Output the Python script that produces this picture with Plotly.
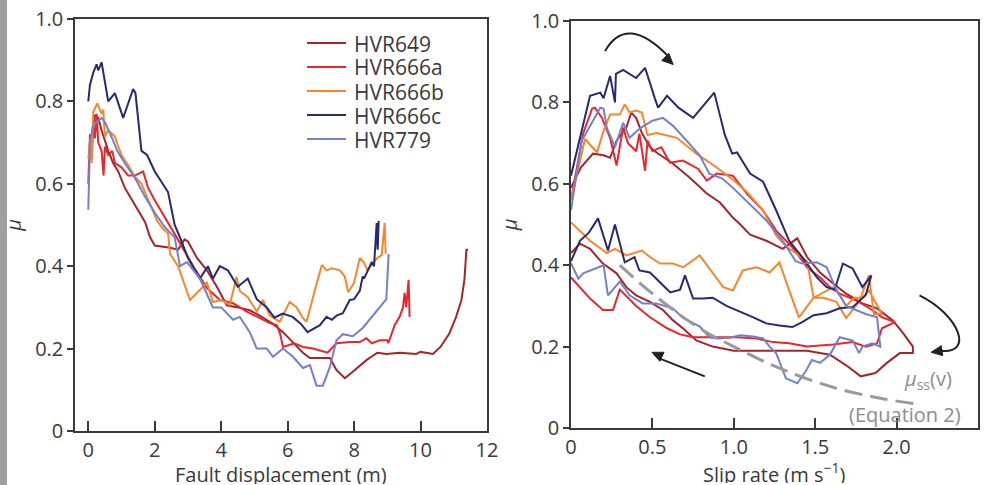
import math
import plotly.graph_objects as go

# ---------------- data: left panel (mu vs fault displacement) ----------------
disp_HVR649 = [0.1, 0.2, 0.3, 0.4, 0.6, 0.75, 0.9, 1.1, 1.32, 1.5, 1.71, 1.86, 2.0, 2.46, 2.7, 2.9, 3.0, 3.27, 3.57, 3.87,
               4.17, 4.5, 4.86, 5.16, 5.56, 5.86, 6.16, 6.46, 6.67, 7.27, 7.47, 7.72, 7.96, 8.37, 8.7, 8.97, 9.37, 9.87,
               10.0, 10.2, 10.37, 10.6, 10.87, 11.07, 11.23, 11.32, 11.38, 11.43]
mu_HVR649 = [0.72, 0.767, 0.76, 0.73, 0.68, 0.65, 0.63, 0.59, 0.56, 0.536, 0.507, 0.47, 0.45, 0.445, 0.44, 0.465, 0.46,
             0.42, 0.39, 0.35, 0.305, 0.30, 0.293, 0.28, 0.26, 0.24, 0.216, 0.19, 0.177, 0.177, 0.148, 0.128, 0.144,
             0.172, 0.19, 0.187, 0.19, 0.187, 0.192, 0.19, 0.187, 0.204, 0.237, 0.277, 0.318, 0.367, 0.44, 0.44]

disp_HVR666a = [0.0, 0.05, 0.1, 0.15, 0.2, 0.25, 0.3, 0.4, 0.46, 0.5, 0.6, 0.72, 0.8, 1.0, 1.2, 1.4, 1.65, 1.8, 2.0, 2.3,
                2.5, 2.76, 3.16, 3.57, 3.96, 4.36, 4.77, 5.16, 5.46, 5.67, 5.77, 5.86, 6.2, 6.46, 6.76, 7.2, 7.47, 7.87,
                8.17, 8.37, 8.53, 8.77, 9.0, 9.03, 9.22, 9.37, 9.47, 9.52, 9.57, 9.64, 9.67]
mu_HVR666a = [0.60, 0.72, 0.66, 0.74, 0.71, 0.77, 0.70, 0.68, 0.62, 0.69, 0.67, 0.68, 0.65, 0.64, 0.62, 0.62, 0.63, 0.59,
              0.56, 0.52, 0.49, 0.456, 0.40, 0.347, 0.318, 0.31, 0.29, 0.274, 0.262, 0.257, 0.237, 0.204, 0.213, 0.204,
              0.20, 0.19, 0.213, 0.216, 0.216, 0.225, 0.213, 0.22, 0.22, 0.213, 0.257, 0.277, 0.30, 0.335, 0.30, 0.367,
              0.277]

disp_HVR666b = [0.0, 0.06, 0.1, 0.15, 0.27, 0.4, 0.45, 0.5, 0.6, 0.8, 0.9, 1.0, 1.2, 1.4, 1.6, 1.8, 2.07, 2.25, 2.4, 2.46,
                2.7, 3.06, 3.36, 3.57, 3.75, 4.0, 4.26, 4.46, 4.56, 4.8, 5.07, 5.26, 5.46, 5.76, 6.06, 6.27, 6.46, 6.57,
                6.82, 7.03, 7.17, 7.33, 7.57, 7.72, 7.82, 8.0, 8.17, 8.3, 8.4, 8.53, 8.7, 8.83, 8.92, 8.95]
mu_HVR666b = [0.66, 0.71, 0.65, 0.775, 0.795, 0.77, 0.78, 0.715, 0.73, 0.715, 0.69, 0.67, 0.645, 0.617, 0.60, 0.56, 0.51,
              0.49, 0.48, 0.43, 0.40, 0.318, 0.342, 0.36, 0.313, 0.318, 0.306, 0.374, 0.34, 0.325, 0.29, 0.318, 0.28,
              0.265, 0.313, 0.30, 0.274, 0.265, 0.342, 0.403, 0.39, 0.395, 0.39, 0.375, 0.337, 0.36, 0.42, 0.408, 0.39,
              0.403, 0.42, 0.427, 0.505, 0.43]

disp_HVR666c = [0.0, 0.05, 0.15, 0.25, 0.3, 0.4, 0.6, 0.8, 1.05, 1.35, 1.42, 1.6, 1.77, 2.0, 2.4, 2.6, 2.76, 3.0, 3.36,
                3.6, 3.75, 3.96, 4.2, 4.5, 4.8, 5.07, 5.37, 5.6, 5.85, 6.15, 6.4, 6.6, 6.97, 7.17, 7.33, 7.47, 7.66, 7.87,
                8.0, 8.17, 8.26, 8.3, 8.53, 8.6, 8.68, 8.71, 8.74]
mu_HVR666c = [0.80, 0.84, 0.87, 0.89, 0.875, 0.895, 0.80, 0.82, 0.76, 0.83, 0.82, 0.68, 0.67, 0.63, 0.58, 0.50, 0.47,
              0.42, 0.37, 0.40, 0.37, 0.40, 0.39, 0.35, 0.37, 0.32, 0.30, 0.275, 0.285, 0.277, 0.26, 0.24, 0.257, 0.277,
              0.27, 0.28, 0.286, 0.318, 0.32, 0.34, 0.375, 0.37, 0.41, 0.40, 0.505, 0.44, 0.51]

disp_HVR779 = [0.0, 0.05, 0.15, 0.25, 0.4, 0.5, 0.72, 0.87, 1.1, 1.36, 1.5, 1.7, 2.0, 2.3, 2.6, 2.76, 2.97, 3.36, 3.75,
               4.0, 4.36, 4.56, 4.86, 5.07, 5.37, 5.56, 5.86, 6.16, 6.46, 6.67, 6.87, 7.06, 7.27, 7.47, 7.66, 7.96, 8.26,
               8.56, 8.83, 8.97, 9.04]
mu_HVR779 = [0.537, 0.70, 0.74, 0.75, 0.76, 0.75, 0.71, 0.68, 0.65, 0.62, 0.60, 0.57, 0.53, 0.495, 0.47, 0.40, 0.41,
             0.37, 0.30, 0.30, 0.27, 0.277, 0.24, 0.20, 0.20, 0.18, 0.20, 0.18, 0.153, 0.16, 0.11, 0.11, 0.155, 0.22,
             0.235, 0.23, 0.25, 0.28, 0.305, 0.32, 0.43]

# ---------------- data: right panel (mu vs slip rate) ----------------
v_HVR649 = [0.0, 0.06, 0.135, 0.2, 0.24, 0.28, 0.34, 0.37, 0.4, 0.435, 0.485, 0.525, 0.625, 0.73, 0.834, 0.915, 0.994,
            1.04, 1.1, 1.2, 1.3, 1.39, 1.45, 1.53, 1.61, 1.69, 1.79, 1.88, 1.975, 2.04, 2.1, 2.1,
            2.02, 1.94, 1.87, 1.78, 1.69, 1.59, 1.45, 1.3, 1.2, 1.0, 0.87, 0.77, 0.687, 0.625, 0.565, 0.485, 0.4,
            0.34, 0.28, 0.196, 0.117, 0.055, 0.0]
muv_HVR649 = [0.59, 0.64, 0.674, 0.67, 0.664, 0.706, 0.738, 0.775, 0.762, 0.725, 0.69, 0.677, 0.65, 0.615, 0.576, 0.554,
              0.517, 0.50, 0.475, 0.46, 0.44, 0.466, 0.42, 0.382, 0.355, 0.33, 0.306, 0.294, 0.265, 0.233, 0.2, 0.184,
              0.184, 0.16, 0.135, 0.127, 0.154, 0.18, 0.19, 0.19, 0.19, 0.19, 0.2, 0.215, 0.245, 0.265, 0.29, 0.31,
              0.326, 0.346, 0.38, 0.404, 0.44, 0.453, 0.43]

v_HVR666a = [0.0, 0.074, 0.13, 0.147, 0.19, 0.24, 0.28, 0.32, 0.35, 0.4, 0.42, 0.455, 0.47, 0.5, 0.555, 0.607, 0.687,
             0.78, 0.834, 0.895, 0.994, 1.08, 1.18, 1.26, 1.36, 1.45, 1.53, 1.59, 1.65, 1.75, 1.85, 1.91, 1.99,
             1.91, 1.88, 1.81, 1.73, 1.61, 1.45, 1.34, 1.24, 1.14, 1.02, 0.85, 0.75, 0.67, 0.59, 0.485, 0.4, 0.3,
             0.258, 0.196, 0.117, 0.0]
muv_HVR666a = [0.56, 0.723, 0.785, 0.787, 0.762, 0.713, 0.645, 0.738, 0.70, 0.68, 0.723, 0.632, 0.706, 0.68, 0.69,
               0.652, 0.657, 0.637, 0.608, 0.625, 0.62, 0.576, 0.534, 0.485, 0.444, 0.395, 0.37, 0.346, 0.33, 0.314,
               0.29, 0.272, 0.26, 0.245, 0.208, 0.2, 0.211, 0.205, 0.2, 0.208, 0.211, 0.22, 0.223, 0.223, 0.223, 0.23,
               0.245, 0.272, 0.30, 0.34, 0.29, 0.29, 0.318, 0.37]

v_HVR666b = [0.0, 0.086, 0.16, 0.2, 0.24, 0.3, 0.33, 0.36, 0.4, 0.435, 0.47, 0.525, 0.65, 0.77, 0.895, 0.995, 1.08,
             1.18, 1.26, 1.3, 1.34, 1.45, 1.49, 1.55, 1.61, 1.65, 1.69, 1.74, 1.79, 1.83, 1.88, 1.91,
             1.86, 1.83, 1.77, 1.69, 1.63, 1.55, 1.49, 1.4, 1.34, 1.28, 1.22, 1.14, 1.055, 0.995, 0.935, 0.87, 0.79,
             0.69, 0.625, 0.546, 0.485, 0.435, 0.34, 0.27, 0.22, 0.117, 0.0]
muv_HVR666b = [0.56, 0.71, 0.677, 0.73, 0.77, 0.77, 0.795, 0.775, 0.78, 0.775, 0.72, 0.725, 0.713, 0.674, 0.64, 0.61,
               0.58, 0.535, 0.473, 0.455, 0.441, 0.41, 0.32, 0.333, 0.346, 0.326, 0.30, 0.32, 0.32, 0.338, 0.30, 0.28,
               0.28, 0.375, 0.31, 0.27, 0.31, 0.32, 0.32, 0.272, 0.338, 0.407, 0.382, 0.395, 0.387, 0.338, 0.346,
               0.38, 0.424, 0.395, 0.404, 0.404, 0.42, 0.436, 0.424, 0.44, 0.43, 0.46, 0.505]

v_HVR666c = [0.0, 0.117, 0.18, 0.2, 0.24, 0.27, 0.276, 0.32, 0.40, 0.455, 0.515, 0.535, 0.59, 0.66, 0.75, 0.88, 0.945,
             0.99, 1.02, 1.1, 1.18, 1.26, 1.34, 1.42, 1.51, 1.57, 1.62, 1.67, 1.73, 1.79, 1.845,
             1.81, 1.73, 1.65, 1.57, 1.49, 1.42, 1.36, 1.28, 1.2, 1.12, 1.04, 0.955, 0.87, 0.81, 0.75, 0.70, 0.67,
             0.61, 0.577, 0.485, 0.42, 0.39, 0.33, 0.27, 0.227, 0.166, 0.11, 0.055, 0.0]
muv_HVR666c = [0.62, 0.816, 0.824, 0.81, 0.865, 0.80, 0.87, 0.88, 0.86, 0.885, 0.81, 0.787, 0.816, 0.787, 0.762, 0.824,
               0.72, 0.674, 0.677, 0.625, 0.605, 0.535, 0.46, 0.42, 0.37, 0.346, 0.34, 0.404, 0.392, 0.346, 0.375,
               0.326, 0.297, 0.294, 0.282, 0.277, 0.26, 0.248, 0.252, 0.257, 0.272, 0.285, 0.30, 0.32, 0.318, 0.318,
               0.375, 0.34, 0.333, 0.346, 0.382, 0.387, 0.42, 0.407, 0.50, 0.436, 0.515, 0.48, 0.46, 0.41]

v_HVR779 = [0.0, 0.065, 0.18, 0.2, 0.22, 0.27, 0.32, 0.36, 0.42, 0.5, 0.565, 0.625, 0.71, 0.79, 0.85, 0.93, 0.995, 1.1,
            1.2, 1.3, 1.38, 1.42, 1.51, 1.57, 1.63, 1.69, 1.75, 1.81, 1.88, 1.9,
            1.85, 1.79, 1.77, 1.73, 1.65, 1.59, 1.53, 1.48, 1.44, 1.39, 1.32, 1.26, 1.22, 1.18, 1.12, 1.04, 0.975,
            0.9, 0.85, 0.79, 0.69, 0.625, 0.525, 0.44, 0.36, 0.3, 0.227, 0.2, 0.075, 0.045, 0.0]
muv_HVR779 = [0.535, 0.705, 0.787, 0.785, 0.738, 0.69, 0.75, 0.713, 0.735, 0.755, 0.762, 0.743, 0.706, 0.67, 0.625,
              0.613, 0.59, 0.55, 0.51, 0.46, 0.41, 0.404, 0.407, 0.395, 0.34, 0.30, 0.29, 0.28, 0.272, 0.2,
              0.208, 0.2, 0.184, 0.215, 0.223, 0.18, 0.16, 0.167, 0.138, 0.11, 0.122, 0.184, 0.2, 0.22, 0.225, 0.228,
              0.222, 0.22, 0.223, 0.25, 0.27, 0.294, 0.306, 0.306, 0.326, 0.36, 0.326, 0.40, 0.38, 0.367, 0.405]

# steady-state friction curve mu_ss(v) (Equation 2)
v_ss = [0.3, 0.5, 0.79, 1.0, 1.28, 1.61, 1.9, 2.11]
mu_ss = [0.40, 0.33, 0.245, 0.20, 0.147, 0.10, 0.073, 0.06]

samples = ["HVR649", "HVR666a", "HVR666b", "HVR666c", "HVR779"]
colors = ["#a3262e", "#e8262d", "#f7862f", "#262a6e", "#7480c8"]

left_x = [disp_HVR649, disp_HVR666a, disp_HVR666b, disp_HVR666c, disp_HVR779]
left_y = [mu_HVR649, mu_HVR666a, mu_HVR666b, mu_HVR666c, mu_HVR779]
right_x = [v_HVR649, v_HVR666a, v_HVR666b, v_HVR666c, v_HVR779]
right_y = [muv_HVR649, muv_HVR666a, muv_HVR666b, muv_HVR666c, muv_HVR779]

y_ticks = [0, 0.2, 0.4, 0.6, 0.8, 1.0]
y_ticktext = ["0", "0.2", "0.4", "0.6", "0.8", "1.0"]
disp_ticks = [0, 2, 4, 6, 8, 10, 12]
v_ticks = [0, 0.5, 1.0, 1.5, 2.0, 2.5]
v_ticktext = ["0", "0.5", "1.0", "1.5", "2.0", "2.5"]

FONT = "Open Sans"
TXT = "#3a3a3a"
W, H = 989, 485

# subplot frames in pixels (left, top, right, bottom)
L_BOX = (75, 19, 487, 431)
R_BOX = (571, 21, 978, 428)
R_XRANGE = (0.0, 2.5)
R_YRANGE = (0.0, 1.0)

fig = go.Figure()
for name, c, xs, ys in zip(samples, colors, left_x, left_y):
    fig.add_trace(go.Scatter(x=xs, y=ys, mode="lines", name=name, showlegend=False,
                             line=dict(color=c, width=2), xaxis="x", yaxis="y"))
for name, c, xs, ys in zip(samples, colors, right_x, right_y):
    fig.add_trace(go.Scatter(x=xs, y=ys, mode="lines", name=name, showlegend=False,
                             line=dict(color=c, width=2), xaxis="x2", yaxis="y2"))
fig.add_trace(go.Scatter(x=v_ss, y=mu_ss, mode="lines", showlegend=False, line_shape="spline",
                         line=dict(color="#9a9a9a", width=3, dash="18px,8px"), xaxis="x2", yaxis="y2"))

axis_common = dict(showgrid=False, zeroline=False, showline=True, mirror=True, linecolor="#3a3a3a",
                   linewidth=1.5, tickcolor="#3a3a3a", tickwidth=1.5, automargin=False,
                   tickfont=dict(family=FONT, size=20, color=TXT))


def title(text, standoff):
    return dict(text=text, font=dict(family=FONT, size=20, color=TXT), standoff=standoff)


fig.update_layout(
    width=W, height=H,
    margin=dict(l=0, r=0, t=0, b=0, autoexpand=False),
    paper_bgcolor="white", plot_bgcolor="white",
    font=dict(family=FONT, size=20, color=TXT),
    showlegend=False,
    xaxis=dict(domain=[L_BOX[0] / W, L_BOX[2] / W], range=[-0.4, 12], tickvals=disp_ticks, ticks="inside",
               ticklen=10, anchor="y", **axis_common),
    yaxis=dict(domain=[(H - L_BOX[3]) / H, (H - L_BOX[1]) / H], range=[0, 1.0], tickvals=y_ticks,
               ticktext=y_ticktext, ticks="outside", ticklen=6, title=title("<i>μ</i>", 14), anchor="x",
               **axis_common),
    xaxis2=dict(domain=[R_BOX[0] / W, R_BOX[2] / W], range=list(R_XRANGE), tickvals=v_ticks, ticktext=v_ticktext,
                ticks="inside", ticklen=10, anchor="y2", **axis_common),
    yaxis2=dict(domain=[(H - R_BOX[3]) / H, (H - R_BOX[1]) / H], range=list(R_YRANGE), tickvals=y_ticks,
                ticktext=y_ticktext, ticks="outside", ticklen=6, title=title("<i>μ</i>", 8), anchor="x2",
                **axis_common),
)

# x-axis titles, placed below the tick labels as in the original
fig.add_annotation(xref="paper", yref="paper", x=(L_BOX[0] + L_BOX[2]) / 2 / W, y=1 - 474 / H,
                   text="Fault displacement (m)", showarrow=False, xanchor="center", yanchor="middle",
                   height=20, font=dict(family=FONT, size=20, color=TXT))
fig.add_annotation(xref="paper", yref="paper", x=(R_BOX[0] + R_BOX[2]) / 2 / W, y=1 - 473 / H,
                   text="Slip rate (m s<sup>−1</sup>)", showarrow=False, xanchor="center", yanchor="middle",
                   height=20, font=dict(family=FONT, size=20, color=TXT))

# grey strip at the left edge of the picture
fig.add_shape(type="rect", xref="paper", yref="paper", x0=0, x1=7 / W, y0=0, y1=1,
              fillcolor="#9f9f9f", line=dict(width=0), layer="below")

# hand-drawn legend in the left panel (line samples + labels)
leg_rows_px = [43, 67, 91, 115, 139]
for name, c, ypx in zip(samples, colors, leg_rows_px):
    fig.add_shape(type="line", xref="paper", yref="paper", x0=307 / W, x1=346 / W,
                  y0=1 - ypx / H, y1=1 - ypx / H, line=dict(color=c, width=2))
    fig.add_annotation(xref="paper", yref="paper", x=352 / W, y=1 - ypx / H, text=name, showarrow=False,
                       xanchor="left", yanchor="middle", height=21,
                       font=dict(family=FONT, size=21, color=TXT))

# ----- arrows in the right panel -----
ARROW = "#222222"
SX = (R_BOX[2] - R_BOX[0]) / (R_XRANGE[1] - R_XRANGE[0])   # px per data unit
SY = (R_BOX[3] - R_BOX[1]) / (R_YRANGE[1] - R_YRANGE[0])


def head_path(tx, ty, dx, dy, length=11, half=5):
    """triangle arrow head with tip at data (tx, ty), direction (dx, dy) in screen pixels (y down)."""
    n = math.hypot(dx, dy)
    ux, uy = dx / n, dy / n
    bx, by = -ux * length, -uy * length
    px, py = -uy * half, ux * half
    pts = [(0, 0), (bx + px, by + py), (bx - px, by - py)]
    coords = [(tx + ox / SX, ty - oy / SY) for ox, oy in pts]
    return "M {:.4f},{:.4f} L {:.4f},{:.4f} L {:.4f},{:.4f} Z".format(*[v for p in coords for v in p])


# curved arrow at the top (loading direction)
fig.add_shape(type="path", xref="x2", yref="y2", path="M 0.209,0.926 Q 0.3425,1.02 0.605,0.910",
              line=dict(color=ARROW, width=2))
fig.add_shape(type="path", xref="x2", yref="y2", path=head_path(0.628, 0.893, 0.72, 0.69),
              fillcolor=ARROW, line=dict(color=ARROW, width=1))
# curved arrow on the right
fig.add_shape(type="path", xref="x2", yref="y2",
              path="M 2.141,0.326 C 2.387,0.277 2.479,0.179 2.265,0.190",
              line=dict(color=ARROW, width=2))
fig.add_shape(type="path", xref="x2", yref="y2", path=head_path(2.212, 0.186, -1.0, 0.15),
              fillcolor=ARROW, line=dict(color=ARROW, width=1))
# straight arrow (unloading direction)
fig.add_shape(type="line", xref="x2", yref="y2", x0=0.822, y0=0.127, x1=0.55, y1=0.17,
              line=dict(color=ARROW, width=2))
fig.add_shape(type="path", xref="x2", yref="y2", path=head_path(0.497, 0.186, -0.91, -0.41),
              fillcolor=ARROW, line=dict(color=ARROW, width=1))

fig.add_annotation(x=2.19, y=0.118, xref="x2", yref="y2", text="<i>μ</i><sub>ss</sub>(v)", showarrow=False,
                   font=dict(family=FONT, size=20, color="#8c8c8c"))
fig.add_annotation(x=2.05, y=0.034, xref="x2", yref="y2", text="(Equation 2)", showarrow=False,
                   font=dict(family=FONT, size=20, color="#8c8c8c"))

# the page's default 8px body margin would shift the 989x485 figure; remove it
fig.write_html("out.html", config={"displayModeBar": False},
               post_script="document.body.style.margin='0px';")
